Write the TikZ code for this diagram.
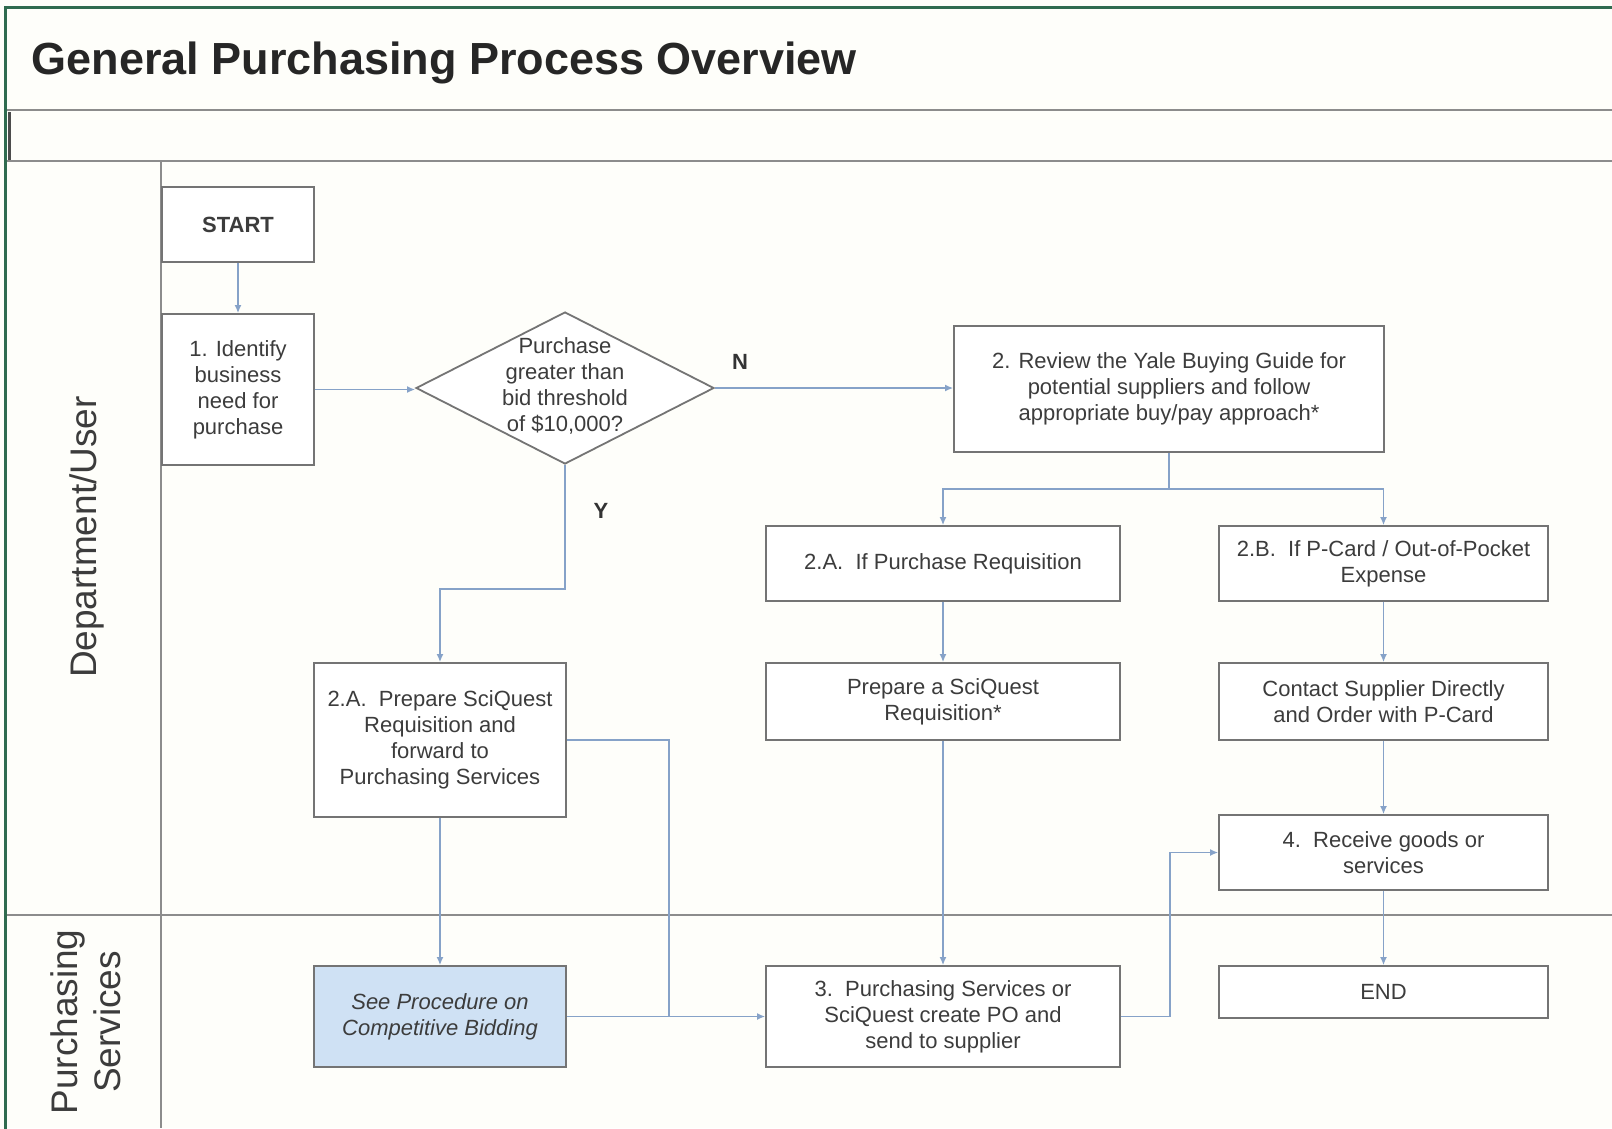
\documentclass[tikz,border=0pt]{standalone}
\usepackage{fontspec}
\setmainfont{Liberation Sans}
\usetikzlibrary{shapes.geometric,arrows.meta}

\definecolor{framegreen}{HTML}{2F6B4F}
\definecolor{lanegray}{HTML}{8C8C8C}
\definecolor{boxgray}{HTML}{747474}
\definecolor{flowblue}{HTML}{86A2C8}
\definecolor{bidfill}{HTML}{CFE1F4}
\definecolor{txtgray}{HTML}{3C3C3C}
\definecolor{paper}{HTML}{FEFEFA}

\begin{document}
\begin{tikzpicture}[x=1pt,y=-1pt,
  bodyfont/.style={font=\fontsize{22}{26}\selectfont},
  stepbox/.style={draw=boxgray, line width=1.8pt, fill=white, inner sep=0pt,
    align=center, text=txtgray, bodyfont},
  flow/.style={draw=flowblue, line width=1.5pt, -{Latex[length=8pt,width=7pt]}},
  link/.style={draw=flowblue, line width=1.5pt},
  lane/.style={draw=lanegray, line width=2pt},
  lanelabel/.style={rotate=90, align=center, text=txtgray,
    font=\fontsize{37}{43}\selectfont},
  answer/.style={font=\bfseries\fontsize{22}{26}\selectfont, text=black!80}
]
% page and frame
\useasboundingbox (0,0) rectangle (1612,1128);
\fill[paper] (0,0) rectangle (1612,1128);
\draw[lane] (6,110) -- (1612,110);
\draw[lane] (6,161) -- (1612,161);
\draw[lane] (161,161) -- (161,1128);
\draw[lane] (6,915) -- (1612,915);
\draw[line width=3pt, black!70] (9,112) -- (9,160);
\draw[framegreen, line width=3pt] (5,1140) -- (5,7) -- (1620,7);

% heading
\node[anchor=base west, font=\bfseries\fontsize{45}{50}\selectfont, text=black!85]
  (title) at (28,74) {General Purchasing Process Overview};

% swimlane names
\node[lanelabel] (deptlane) at (87,537) {Department/User};
\node[lanelabel] (purchlane) at (86,1022) {Purchasing\\Services};

% process steps
\node[stepbox, minimum width=152pt, minimum height=75pt,
  font=\bfseries\fontsize{22}{26}\selectfont] (start) at (238,224.5) {START};
\node[stepbox, minimum width=152pt, minimum height=151pt] (ident) at (238,389.5)
  {1. Identify\\business\\need for\\purchase};
\node[diamond, draw=boxgray, line width=1.8pt, fill=white, minimum width=298pt,
  minimum height=152pt, inner sep=0pt] (dec) at (565,388) {};
\node[align=center, text=txtgray, bodyfont] (dectext) at (565,386)
  {Purchase\\greater than\\bid threshold\\of \$10,000?};
\node[stepbox, minimum width=430pt, minimum height=126pt] (review) at (1169,389)
  {2. Review the Yale Buying Guide for\\potential suppliers and follow\\appropriate buy/pay approach*};
\node[stepbox, minimum width=252pt, minimum height=154pt] (prepfwd) at (440,740)
  {2.A.\ \ Prepare SciQuest\\Requisition and\\forward to\\Purchasing Services};
\node[stepbox, minimum width=354pt, minimum height=75pt] (ifpr) at (943,563.5)
  {2.A.\ \ If Purchase Requisition};
\node[stepbox, minimum width=329pt, minimum height=75pt] (ifpc) at (1383.5,563.5)
  {2.B.\ \ If P-Card / Out-of-Pocket\\Expense};
\node[stepbox, minimum width=354pt, minimum height=77pt] (prepsq) at (943,701.5)
  {Prepare a SciQuest\\Requisition*};
\node[stepbox, minimum width=329pt, minimum height=77pt] (contact) at (1383.5,701.5)
  {Contact Supplier Directly\\and Order with P-Card};
\node[stepbox, minimum width=329pt, minimum height=75pt] (receive) at (1383.5,852.5)
  {4.\ \ Receive goods or\\services};
\node[stepbox, fill=bidfill, minimum width=252pt, minimum height=101pt,
  font=\itshape\fontsize{22}{26}\selectfont] (bidding) at (440,1016.5)
  {See Procedure on\\Competitive Bidding};
\node[stepbox, minimum width=354pt, minimum height=101pt] (create) at (943,1016.5)
  {3.\ \ Purchasing Services or\\SciQuest create PO and\\send to supplier};
\node[stepbox, minimum width=329pt, minimum height=52pt] (end) at (1383.5,992) {END};

% decision answers
\node[answer] (nlabel) at (740,362) {N};
\node[answer] (ylabel) at (601,511) {Y};

% connectors
\draw[flow] (start) -- (ident);
\draw[flow] (ident.east) -- (ident.east -| dec.west);
\draw[flow] (dec.east) -- (dec.east -| review.west);
\draw[flow] (dec.south) -- ++(0,124) -| (prepfwd.north);
\draw[link] (review.south) -- ++(0,36) coordinate (split);
\draw[flow] (split) -| (ifpr.north);
\draw[flow] (split) -| (ifpc.north);
\draw[flow] (ifpr) -- (prepsq);
\draw[flow] (prepsq) -- (create);
\draw[flow] (ifpc) -- (contact);
\draw[flow] (contact) -- (receive);
\draw[flow] (receive) -- (end);
\draw[flow] (prepfwd) -- (bidding);
\draw[flow] (bidding) -- (create);
\draw[link] (prepfwd.east) -- ++(102,0) coordinate (bend) -- (bend |- bidding.east);
\draw[flow] (create.east) -- ++(49,0) |- (receive.west);
\end{tikzpicture}
\end{document}
